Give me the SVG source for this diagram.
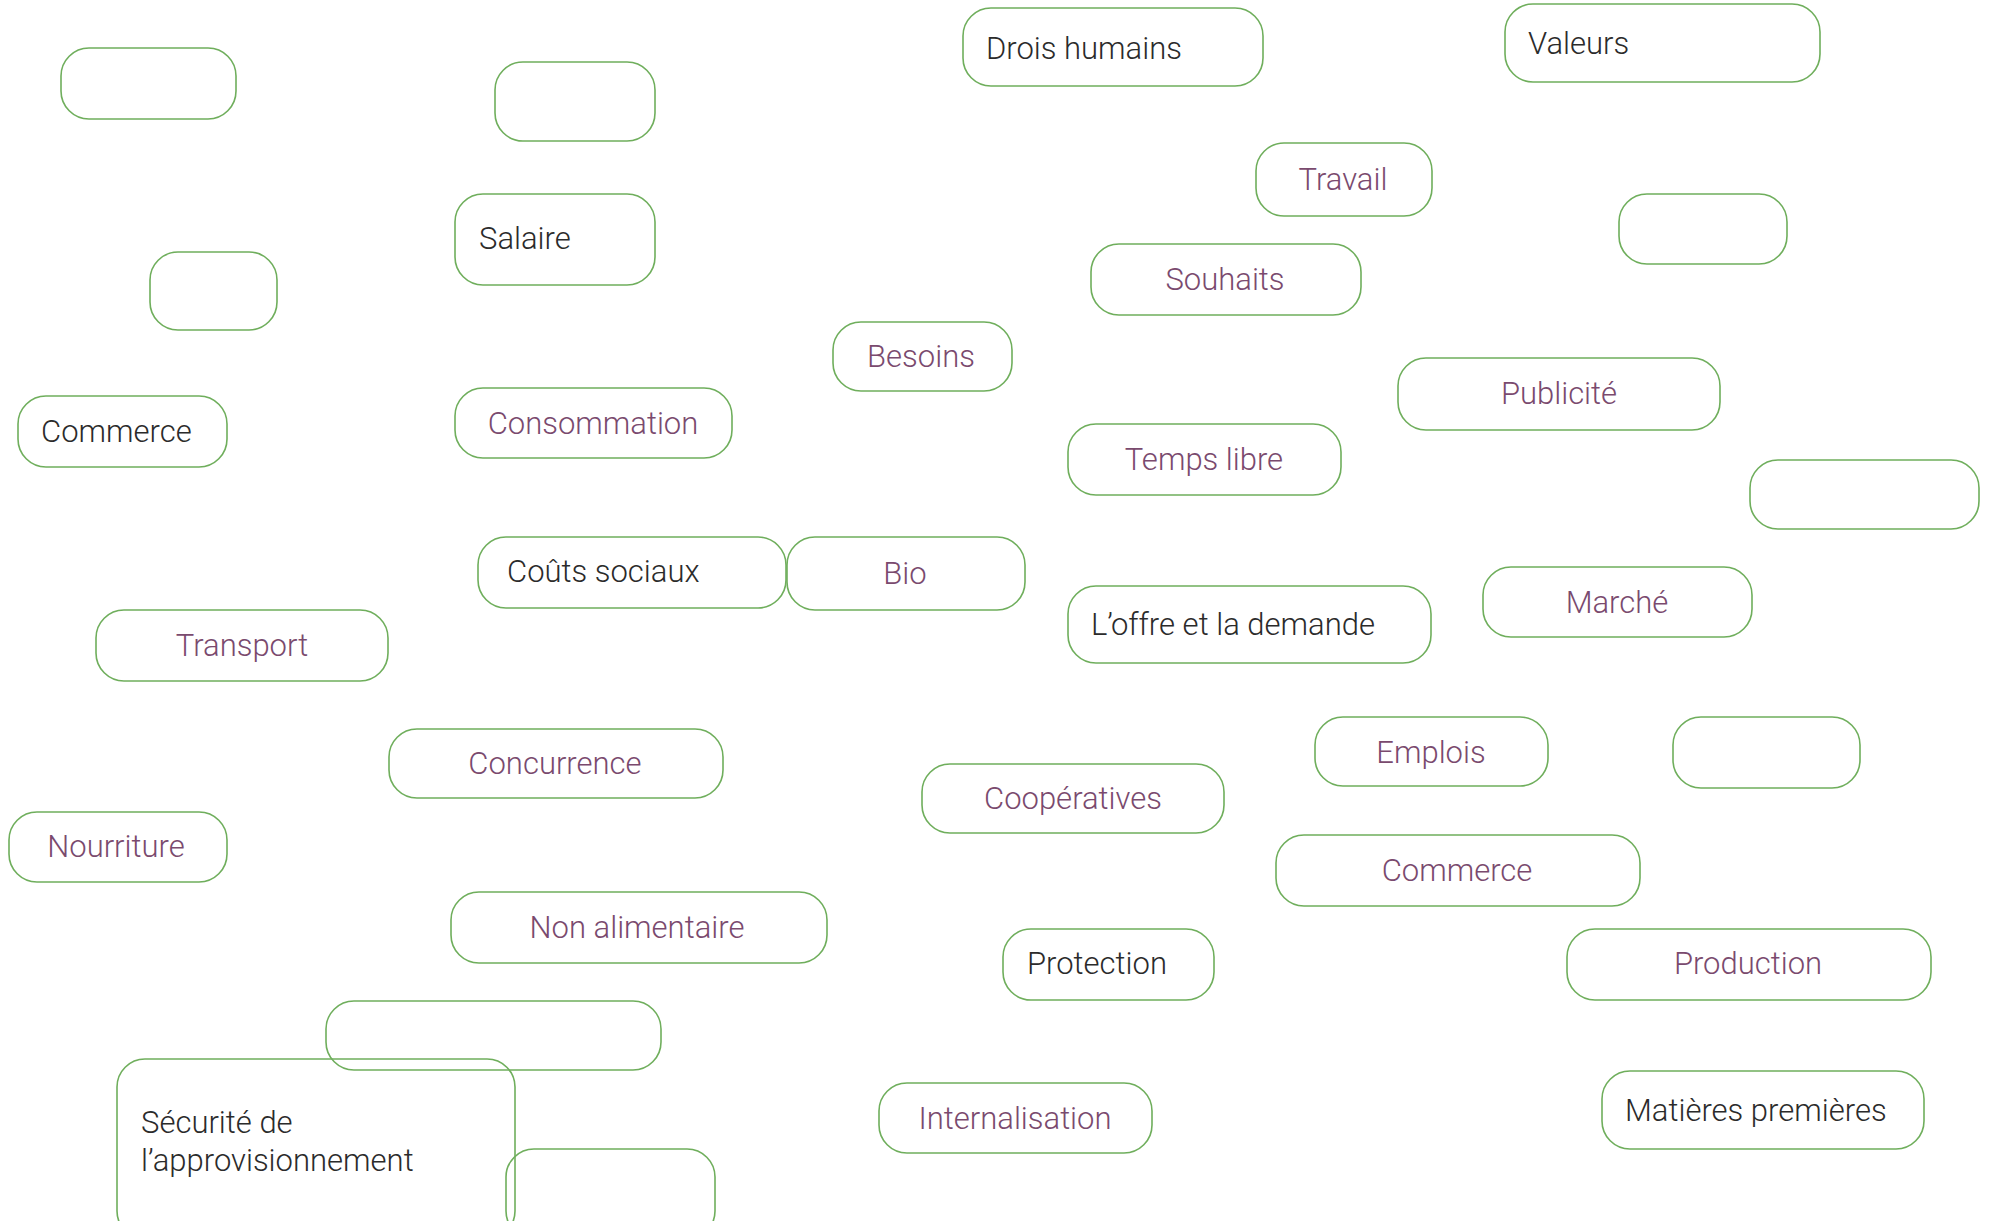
<svg xmlns="http://www.w3.org/2000/svg" width="1989" height="1221" viewBox="0 0 1989 1221">
<style>
rect.n{fill:none;stroke:#6fae5c;stroke-width:1.6}
text{font-family:Roboto,"Noto Sans","Liberation Sans",sans-serif;font-size:31px;font-weight:300}
.d{fill:#2b2b2b}
.p{fill:#7a4a6e;text-anchor:middle}
</style>
<rect width="1989" height="1221" fill="#ffffff"/>
<g id="connectors"></g>
<g id="n1"><rect class="n" x="61" y="48" width="175" height="71" rx="28"/></g>
<g id="n2"><rect class="n" x="495" y="62" width="160" height="79" rx="28"/></g>
<g id="n3"><rect class="n" x="963" y="8" width="300" height="78" rx="28"/><text class="d" x="986" y="59">Drois humains</text></g>
<g id="n4"><rect class="n" x="1505" y="4" width="315" height="78" rx="28"/><text class="d" x="1528" y="54">Valeurs</text></g>
<g id="n5"><rect class="n" x="1256" y="143" width="176" height="73" rx="28"/><text class="p" x="1343" y="190">Travail</text></g>
<g id="n6"><rect class="n" x="455" y="194" width="200" height="91" rx="28"/><text class="d" x="479" y="249">Salaire</text></g>
<g id="n7"><rect class="n" x="1619" y="194" width="168" height="70" rx="28"/></g>
<g id="n8"><rect class="n" x="150" y="252" width="127" height="78" rx="28"/></g>
<g id="n9"><rect class="n" x="1091" y="244" width="270" height="71" rx="28"/><text class="p" x="1225" y="290">Souhaits</text></g>
<g id="n10"><rect class="n" x="833" y="322" width="179" height="69" rx="28"/><text class="p" x="921" y="367">Besoins</text></g>
<g id="n11"><rect class="n" x="1398" y="358" width="322" height="72" rx="28"/><text class="p" x="1559" y="404">Publicité</text></g>
<g id="n12"><rect class="n" x="18" y="396" width="209" height="71" rx="28"/><text class="d" x="41" y="442">Commerce</text></g>
<g id="n13"><rect class="n" x="455" y="388" width="277" height="70" rx="28"/><text class="p" x="593" y="434">Consommation</text></g>
<g id="n14"><rect class="n" x="1068" y="424" width="273" height="71" rx="28"/><text class="p" x="1204" y="470">Temps libre</text></g>
<g id="n15"><rect class="n" x="1750" y="460" width="229" height="69" rx="28"/></g>
<g id="n16"><rect class="n" x="478" y="537" width="308" height="71" rx="28"/><text class="d" x="507" y="582">Coûts sociaux</text></g>
<g id="n17"><rect class="n" x="787" y="537" width="238" height="73" rx="28"/><text class="p" x="905" y="584">Bio</text></g>
<g id="n18"><rect class="n" x="1068" y="586" width="363" height="77" rx="28"/><text class="d" x="1091" y="635">L’offre et la demande</text></g>
<g id="n19"><rect class="n" x="1483" y="567" width="269" height="70" rx="28"/><text class="p" x="1617" y="613">Marché</text></g>
<g id="n20"><rect class="n" x="96" y="610" width="292" height="71" rx="28"/><text class="p" x="242" y="656">Transport</text></g>
<g id="n21"><rect class="n" x="389" y="729" width="334" height="69" rx="28"/><text class="p" x="555" y="774">Concurrence</text></g>
<g id="n22"><rect class="n" x="1315" y="717" width="233" height="69" rx="28"/><text class="p" x="1431" y="763">Emplois</text></g>
<g id="n23"><rect class="n" x="1673" y="717" width="187" height="71" rx="28"/></g>
<g id="n24"><rect class="n" x="922" y="764" width="302" height="69" rx="28"/><text class="p" x="1073" y="809">Coopératives</text></g>
<g id="n25"><rect class="n" x="9" y="812" width="218" height="70" rx="28"/><text class="p" x="116" y="857">Nourriture</text></g>
<g id="n26"><rect class="n" x="1276" y="835" width="364" height="71" rx="28"/><text class="p" x="1457" y="881">Commerce</text></g>
<g id="n27"><rect class="n" x="451" y="892" width="376" height="71" rx="28"/><text class="p" x="637" y="938">Non alimentaire</text></g>
<g id="n28"><rect class="n" x="1003" y="929" width="211" height="71" rx="28"/><text class="d" x="1027" y="974">Protection</text></g>
<g id="n29"><rect class="n" x="1567" y="929" width="364" height="71" rx="28"/><text class="p" x="1748" y="974">Production</text></g>
<g id="n30"><rect class="n" x="326" y="1001" width="335" height="69" rx="28"/></g>
<g id="n31"><rect class="n" x="117" y="1059" width="398" height="180" rx="28"/><text class="d" x="141" y="1133">Sécurité de</text><text class="d" x="141" y="1171">l’approvisionnement</text></g>
<g id="n32"><rect class="n" x="506" y="1149" width="209" height="90" rx="28"/></g>
<g id="n33"><rect class="n" x="879" y="1083" width="273" height="70" rx="28"/><text class="p" x="1015" y="1129">Internalisation</text></g>
<g id="n34"><rect class="n" x="1602" y="1071" width="322" height="78" rx="28"/><text class="d" x="1625" y="1121">Matières premières</text></g>
</svg>
